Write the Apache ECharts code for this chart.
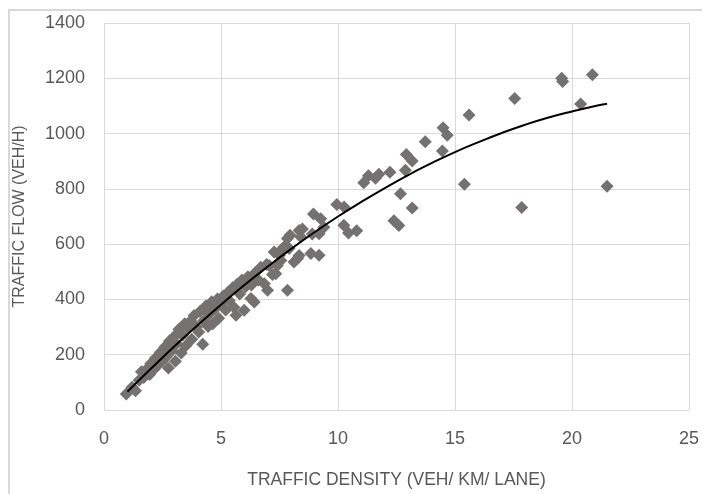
<!DOCTYPE html>
<html>
<head>
<meta charset="utf-8">
<style>
  html, body { margin: 0; padding: 0; background: #fff; }
  #chart { width: 702px; height: 494px; }
</style>
<script src="https://cdn.jsdelivr.net/npm/echarts@6/dist/echarts.min.js"></script>
</head>
<body>
<div id="chart"></div>
<script>
// observed points: density (veh/km/lane) and flow (veh/h)
const density = [
  0.95, 1.2, 1.35, 1.5, 1.6, 1.7, 1.85, 1.95, 2.0, 2.15, 2.2, 2.3, 2.4, 2.5, 2.6, 2.65, 2.75, 2.8, 2.9, 3.0,
  3.05, 3.1, 3.2, 3.3, 3.35, 3.45, 3.5, 3.6, 3.7, 3.75, 3.85, 3.95, 4.05, 4.1, 4.22, 4.25, 4.35, 4.45, 4.5, 4.6,
  4.65, 4.75, 4.85, 4.9, 5.0, 5.1, 5.2, 5.3, 5.35, 5.5, 5.55, 5.64, 5.7, 5.8, 5.9, 5.99, 6.05, 6.15, 6.28, 6.3,
  6.42, 6.45, 6.6, 6.7, 6.85, 6.95, 6.99, 7.06, 7.2, 7.27, 7.34, 7.41, 7.5, 7.56, 7.63, 7.77, 7.84, 7.84, 7.91, 7.95,
  8.12, 8.27, 8.34, 8.34, 8.41, 8.48, 8.84, 8.9, 8.95, 9.19, 9.19, 9.26, 9.4, 9.95, 10.25, 10.26, 10.45, 10.8, 11.1, 11.3,
  11.6, 11.75, 12.22, 12.39, 12.6, 12.67, 12.88, 12.92, 13.17, 13.17, 13.73, 14.46, 14.49, 14.67, 15.4, 15.6, 17.55, 17.85, 19.56, 19.6,
  20.37, 20.87, 21.5
];
const flow = [
  58, 82, 70, 108, 138, 118, 150, 128, 168, 148, 188, 162, 208, 178, 228, 192, 152, 250, 214, 266,
  176, 240, 292, 206, 270, 312, 232, 296, 322, 256, 342, 300, 282, 356, 238, 322, 376, 302, 346, 392,
  312, 366, 402, 332, 386, 412, 362, 426, 396, 442, 372, 343, 456, 420, 470, 361, 446, 482, 403, 452,
  391, 496, 470, 516, 457, 526, 433, 523, 490, 572, 493, 523, 560, 541, 584, 595, 433, 620, 584, 632,
  535, 548, 559, 649, 626, 655, 566, 637, 709, 560, 638, 692, 661, 743, 668, 734, 640, 648, 822, 847,
  838, 853, 860, 685, 667, 782, 867, 924, 901, 731, 970, 937, 1021, 994, 817, 1067, 1127, 733, 1200, 1188,
  1107, 1213, 809
];

// trend curve
const trendDensity = [1, 2, 3, 4, 5, 6, 7, 8, 9, 10, 11, 12, 13, 14, 15, 16, 17, 18, 19, 20, 21, 21.5];
const trendFlow = [66, 149, 230, 307, 381, 452, 519, 583, 643, 700, 753, 803, 850, 893, 933, 969, 1002, 1032, 1058, 1080, 1100, 1108];

const xTicks = { min: 0, max: 25, interval: 5 };
const yTicks = { min: 0, max: 1400, interval: 200 };

const textColor = '#595959';
const gridColor = '#d9d9d9';
const tickFont = "'Liberation Sans', Arial, sans-serif";

const chart = echarts.init(document.getElementById('chart'), null, { renderer: 'canvas' });

chart.setOption({
  animation: false,
  backgroundColor: '#fff',
  graphic: [{
    type: 'rect',
    shape: { x: 9, y: 10, width: 720, height: 520 },
    style: { fill: 'none', stroke: '#d9d9d9', lineWidth: 2 },
    silent: true
  }],
  grid: { left: 104, right: 11, top: 23, bottom: 82 },
  xAxis: {
    type: 'value',
    min: xTicks.min, max: xTicks.max, interval: xTicks.interval,
    name: 'TRAFFIC DENSITY (VEH/ KM/ LANE)',
    nameLocation: 'middle',
    nameGap: 61,
    nameTextStyle: { color: textColor, fontFamily: tickFont, fontSize: 17.5 },
    axisLine: { show: false },
    axisTick: { show: false },
    axisLabel: { color: textColor, fontFamily: tickFont, fontSize: 18, margin: 20 },
    splitLine: { show: true, lineStyle: { color: gridColor, width: 1 } }
  },
  yAxis: {
    type: 'value',
    min: yTicks.min, max: yTicks.max, interval: yTicks.interval,
    name: 'TRAFFIC FLOW (VEH/H)',
    nameLocation: 'middle',
    nameGap: 76,
    nameTextStyle: { color: textColor, fontFamily: tickFont, fontSize: 16 },
    axisLine: { show: false },
    axisTick: { show: false },
    axisLabel: {
      color: textColor, fontFamily: tickFont, fontSize: 18, margin: 19,
      formatter: v => String(v)
    },
    splitLine: { show: true, lineStyle: { color: gridColor, width: 1 } }
  },
  series: [
    {
      type: 'scatter',
      symbol: 'diamond',
      symbolSize: 13,
      itemStyle: { color: '#767171', opacity: 1 },
      data: density.map((d, i) => [d, flow[i]])
    },
    {
      type: 'line',
      smooth: true,
      showSymbol: false,
      lineStyle: { color: '#000', width: 2 },
      data: trendDensity.map((d, i) => [d, trendFlow[i]]),
      z: 3
    }
  ]
});
</script>
</body>
</html>
